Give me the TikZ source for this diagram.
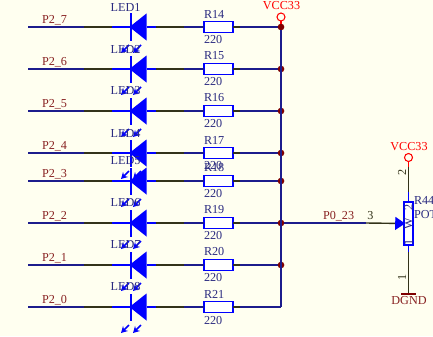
\documentclass[tikz,border=0pt]{standalone}
\usepackage{fontspec}
\setmainfont{Liberation Serif}
\usepackage{xcolor}
\usepackage{tikz}
\usetikzlibrary{arrows.meta,positioning}

\definecolor{paper}{HTML}{FFFFF0}
\definecolor{netnavy}{HTML}{1C1C8C}
\definecolor{stubdark}{HTML}{33331A}
\definecolor{partblue}{HTML}{0000FF}
\definecolor{partname}{HTML}{2B2B80}
\definecolor{netname}{HTML}{882222}
\definecolor{powerred}{HTML}{FF0000}
\definecolor{gndred}{HTML}{800000}

\tikzset{
  every node/.style={inner sep=0pt,outer sep=0pt,font=\fontsize{10.4pt}{11pt}\selectfont},
  wirenavy/.style={netnavy,line width=1.2pt},
  wiredark/.style={stubdark,line width=1.2pt},
  wirepin/.style={partblue,line width=1.2pt},
  wirered/.style={powerred,line width=1.2pt},
  partlabel/.style={text=partname},
  netlabel/.style={text=netname},
  resbox/.style={draw=partblue,fill=white,line width=1.2pt,minimum width=.87cm,minimum height=.32cm},
  potbox/.style={draw=partblue,fill=white,line width=1.2pt,minimum width=.27cm,minimum height=1.29cm},
  ledbox/.style={minimum width=.51cm,minimum height=.81cm,path picture={
    \fill[partblue] (path picture bounding box.west) -- (path picture bounding box.north east)
      -- (path picture bounding box.south east) -- cycle;
    \fill[partblue] (path picture bounding box.south west) rectangle ([xshift=1.9pt]path picture bounding box.north west);
  }},
  ledarrow/.style={partblue,line width=1.3pt,-{Stealth[length=5.5pt,width=6pt]}},
  junction/.style={circle,fill=gndred,minimum size=.2cm},
  powerring/.style={circle,draw=powerred,line width=.9pt,minimum size=.24cm},
}

% one LED branch: y, net name, LED number, resistor number
\newcommand{\ledbranch}[4]{
  \coordinate (net#3) at (28,#1);
  \node[ledbox] (led#3) at (138,#1) {};
  \node[resbox] (r#4) at (218.5,#1) {};
  \node[netlabel,anchor=west] (netname#3) at (42,#1-7) {#2};
  \node[partlabel] (ledname#3) at (125.5,#1-20) {LED#3};
  \node[partlabel,anchor=west] (rname#4) at (204,#1-13) {R#4};
  \node[partlabel,anchor=west] (rval#4) at (204,#1+13) {220};
  \draw[wirenavy] (net#3) -- ++(56,0) coordinate (stubA);
  \draw[wiredark] (stubA) -- ++(28,0) coordinate (stubB);
  \draw[wirepin] (stubB) -- (led#3.west);
  \draw[wirepin] (led#3.east) -- ++(9,0) coordinate (stubA);
  \draw[wiredark] (stubA) -- ++(28,0) coordinate (stubB);
  \draw[wirenavy] (stubB) -- (r#4.west);
  \draw[wiredark] (r#4.east) -- ++(7,0) coordinate (stubA);
  \draw[wirenavy] (stubA) -- (281,#1);
  \draw[ledarrow] (led#3.center) ++(-9,18) -- ++(-8,8);
  \draw[ledarrow] (led#3.center) ++(3,18) -- ++(-8,8);
}

\begin{document}
\begin{tikzpicture}[x=0.03cm,y=-0.03cm]
        \path[use as bounding box,fill=paper] (0,0) rectangle (433,336);
        \ledbranch{27}{P2\_7}{1}{14}
        \ledbranch{69}{P2\_6}{2}{15}
        \ledbranch{111}{P2\_5}{3}{16}
        \ledbranch{153}{P2\_4}{4}{17}
        \ledbranch{181}{P2\_3}{5}{18}
        \ledbranch{223}{P2\_2}{6}{19}
        \ledbranch{265}{P2\_1}{7}{20}
        \ledbranch{307}{P2\_0}{8}{21}
        \coordinate (railend) at (281,307);
        \node[powerring] (vccA) at (281,17) {};
        \node[text=powerred] (vccAname) at (281.5,6) {VCC33};
        \node[junction] (j1) at (281,27) {};
        \node[junction] (j2) at (281,69) {};
        \node[junction] (j3) at (281,111) {};
        \node[junction] (j4) at (281,153) {};
        \node[junction] (j5) at (281,181) {};
        \node[junction] (j6) at (281,223) {};
        \node[junction] (j7) at (281,265) {};
        \draw[wirered]  (vccA) -- (j1);
        \draw[wirenavy] (j1) -- (railend);
        % potentiometer
        \node[potbox] (pot) at (408.5,223.5) {};
        \node[powerring] (vccB) at (408.5,157.5) {};
        \node[text=powerred] (vccBname) at (409,146.5) {VCC33};
        \node[partlabel,anchor=west] (potname) at (414,200) {R44};
        \node[partlabel,anchor=west] (potval) at (414,215) {POT};
        \node[netlabel,anchor=west] (potnet) at (323,216) {P0\_23};
        \node[text=stubdark] (pinC) at (370.5,216) {3};
        \node[text=stubdark,rotate=90] (pinB) at (402,172) {2};
        \node[text=stubdark,rotate=90] (pinA) at (402,277) {1};
        \node[partlabel,rotate=90] (potW) at (408.5,224) {W};
        \node[partlabel,rotate=90] (potB) at (408.5,207) {2};
        \node[partlabel,rotate=90] (potA) at (408.5,242) {1};
        \node[minimum width=.45cm,minimum height=.04cm,fill=gndred] (gnd) at (408.5,294) {};
        \node[netlabel] (gndname) at (409,301) {DGND};
        \draw[wirenavy] (j6) -- ++(85,0) coordinate (potA1);
        \draw[wiredark,-{Triangle[length=8.5pt,width=11pt,color=partblue]}] (potA1) -- ([xshift=1pt]pot.west);
        \draw[wirered]  (vccB) -- ++(0,9) coordinate (potA2);
        \draw[wiredark] (potA2) -- ++(0,25) coordinate (potA3);
        \draw[wirepin]  (potA3) -- (pot.north);
        \draw[wirepin]  (pot.south) -- ++(0,7) coordinate (potA4);
        \draw[wiredark] (potA4) -- (gnd);
    \end{tikzpicture}
\end{document}
